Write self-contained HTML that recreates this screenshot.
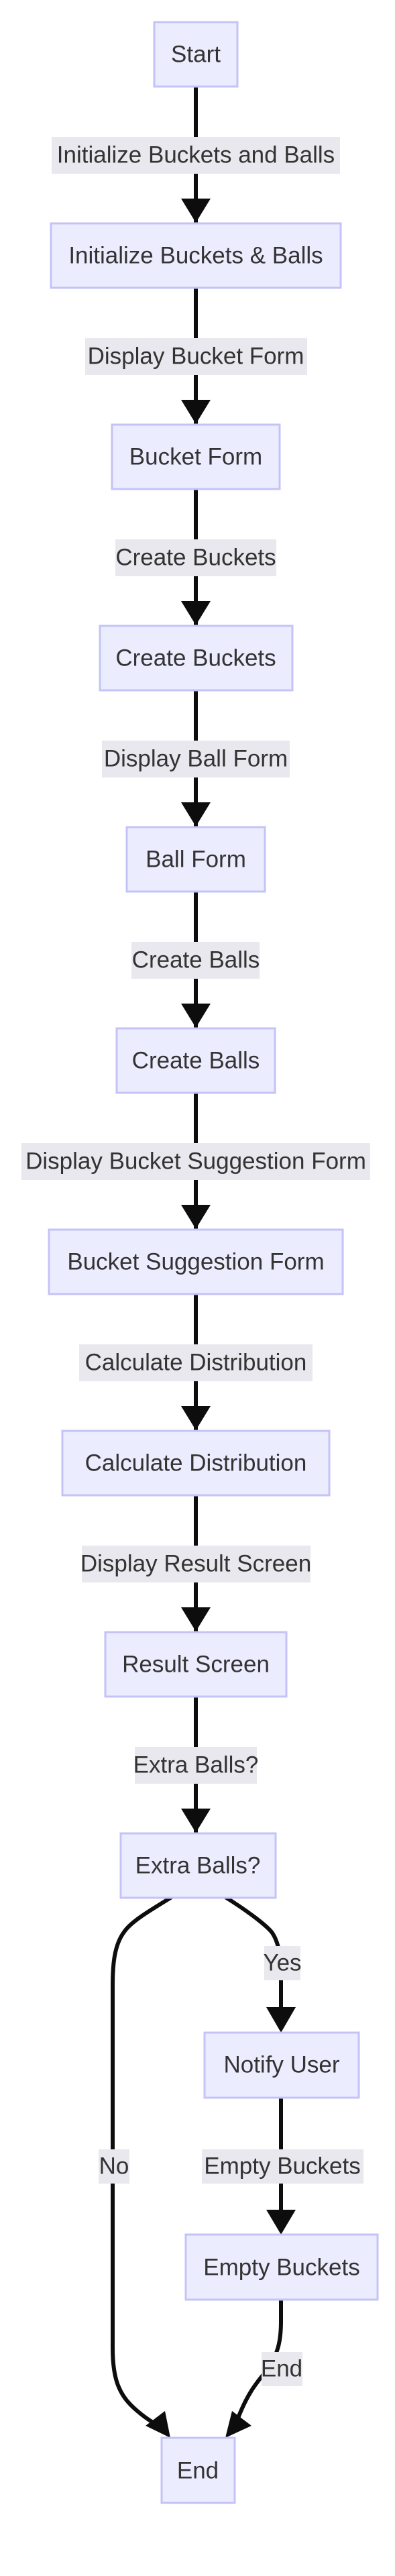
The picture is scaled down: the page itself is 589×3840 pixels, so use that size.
<!DOCTYPE html>
<html><head><meta charset="utf-8"><style>
html,body{margin:0;padding:0;background:#fff;}
svg{display:block;}
text{font-family:"Liberation Sans",sans-serif;font-size:35px;fill:#333;}
</style></head><body>
<svg width="589" height="3840" viewBox="0 0 589 3840" xmlns="http://www.w3.org/2000/svg">
<defs>
<marker id="a" markerWidth="44" markerHeight="36" refX="22" refY="36" orient="auto-start-reverse" markerUnits="userSpaceOnUse" viewBox="0 0 44 36">
<path d="M0,0 L44,0 L22,36 Z" fill="#0d0d0d"/>
</marker>
</defs>
<g stroke="#0d0d0d" stroke-width="6" fill="none">
<!-- straight main edges -->
<line x1="292" y1="130" x2="292" y2="332"/>
<line x1="292" y1="430" x2="292" y2="632"/>
<line x1="292" y1="730" x2="292" y2="932"/>
<line x1="292" y1="1030" x2="292" y2="1232"/>
<line x1="292" y1="1330" x2="292" y2="1532"/>
<line x1="292" y1="1630" x2="292" y2="1832"/>
<line x1="292" y1="1930" x2="292" y2="2132"/>
<line x1="292" y1="2230" x2="292" y2="2432"/>
<line x1="292" y1="2530" x2="292" y2="2732"/>
<!-- arrow heads main -->
</g>
<g fill="#0d0d0d">
<path d="M270,296 L314,296 L292,332 Z"/>
<path d="M270,596 L314,596 L292,632 Z"/>
<path d="M270,896 L314,896 L292,932 Z"/>
<path d="M270,1196 L314,1196 L292,1232 Z"/>
<path d="M270,1496 L314,1496 L292,1532 Z"/>
<path d="M270,1796 L314,1796 L292,1832 Z"/>
<path d="M270,2096 L314,2096 L292,2132 Z"/>
<path d="M270,2396 L314,2396 L292,2432 Z"/>
<path d="M270,2696 L314,2696 L292,2732 Z"/>
<path d="M397,2992 L441,2992 L419,3030 Z"/>
<path d="M397,3294 L441,3294 L419,3331 Z"/>
<path d="M217,3616 L246,3594 L254,3634 Z"/>
<path d="M375,3616 L346,3594 L336,3634 Z"/>
</g>
<g stroke="#0d0d0d" stroke-width="6" fill="none">
<path d="M256,2828 C220,2850 195,2865 185,2880 C170,2900 168,2930 168,2960 L168,3500 C168,3540 175,3565 195,3585 C210,3600 225,3610 240,3618"/>
<path d="M336,2828 C365,2846 395,2868 405,2880 C416,2895 419,2920 419,2940 L419,2995"/>
<line x1="419" y1="3127" x2="419" y2="3296"/>
<path d="M419,3428 L419,3460 C419,3490 414,3510 400,3530 C390,3545 370,3560 350,3618"/>
</g>
<g fill="#ececff" stroke="#c3c3f7" stroke-width="3">
<rect x="230" y="33" width="124" height="96"/>
<rect x="76" y="333" width="432" height="96"/>
<rect x="167" y="633" width="250" height="96"/>
<rect x="149" y="933" width="287" height="96"/>
<rect x="189" y="1233" width="206" height="96"/>
<rect x="174" y="1533" width="236" height="96"/>
<rect x="73" y="1833" width="438" height="96"/>
<rect x="93" y="2133" width="398" height="96"/>
<rect x="157" y="2433" width="270" height="96"/>
<rect x="180" y="2733" width="231" height="96"/>
<rect x="305" y="3030" width="230" height="97"/>
<rect x="277" y="3331" width="286" height="97"/>
<rect x="241" y="3634" width="109" height="97"/>
</g>
<g fill="#e8e8ee">
<rect x="77" y="204" width="430" height="55"/>
<rect x="127" y="504" width="331" height="55"/>
<rect x="172" y="804" width="240" height="55"/>
<rect x="152" y="1104" width="280" height="55"/>
<rect x="196" y="1404" width="191" height="55"/>
<rect x="32" y="1704" width="520" height="55"/>
<rect x="118" y="2004" width="348" height="55"/>
<rect x="122" y="2304" width="341" height="55"/>
<rect x="201" y="2604" width="182" height="55"/>
<rect x="394" y="2901" width="54" height="51"/>
<rect x="147" y="3204" width="46" height="51"/>
<rect x="301" y="3204" width="241" height="51"/>
<rect x="390" y="3506" width="61" height="51"/>
</g>
<g text-anchor="middle" dominant-baseline="central">
<text x="292" y="81">Start</text>
<text x="292" y="231">Initialize Buckets and Balls</text>
<text x="292" y="381">Initialize Buckets &amp; Balls</text>
<text x="292" y="531">Display Bucket Form</text>
<text x="292" y="681">Bucket Form</text>
<text x="292" y="831">Create Buckets</text>
<text x="292" y="981">Create Buckets</text>
<text x="292" y="1131">Display Ball Form</text>
<text x="292" y="1281">Ball Form</text>
<text x="292" y="1431">Create Balls</text>
<text x="292" y="1581">Create Balls</text>
<text x="292" y="1731">Display Bucket Suggestion Form</text>
<text x="292" y="1881">Bucket Suggestion Form</text>
<text x="292" y="2031">Calculate Distribution</text>
<text x="292" y="2181">Calculate Distribution</text>
<text x="292" y="2331">Display Result Screen</text>
<text x="292" y="2481">Result Screen</text>
<text x="292" y="2631">Extra Balls?</text>
<text x="295" y="2781">Extra Balls?</text>
<text x="421" y="2926">Yes</text>
<text x="420" y="3078">Notify User</text>
<text x="170" y="3229">No</text>
<text x="421" y="3229">Empty Buckets</text>
<text x="420" y="3380">Empty Buckets</text>
<text x="420" y="3531">End</text>
<text x="295" y="3683">End</text>
</g>
</svg>
</body></html>
